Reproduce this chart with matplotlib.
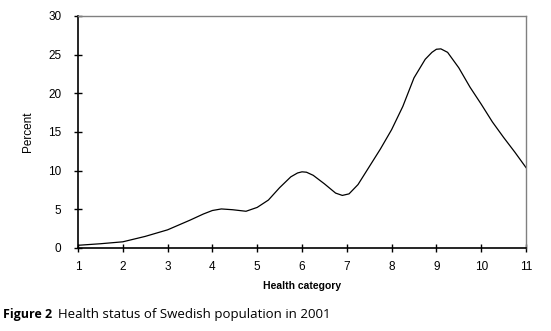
import numpy as np
import matplotlib
matplotlib.use('Agg')
import matplotlib.pyplot as plt

# health category (x) and percent (y)
category = [1, 1.5, 2, 2.5, 3, 3.5, 3.8, 4, 4.2, 4.45, 4.75, 5, 5.25, 5.5,
            5.75, 5.9, 6, 6.1, 6.25, 6.5, 6.75, 6.9, 7.05, 7.25, 7.5, 7.75,
            8, 8.25, 8.5, 8.75, 8.9, 9, 9.1, 9.25, 9.5, 9.75, 10, 10.25,
            10.5, 10.75, 11]
percent = [0.35, 0.55, 0.8, 1.5, 2.35, 3.6, 4.4, 4.85, 5.05, 4.95, 4.75,
           5.25, 6.2, 7.8, 9.2, 9.7, 9.85, 9.8, 9.4, 8.3, 7.1, 6.8, 7.0,
           8.2, 10.5, 12.8, 15.3, 18.3, 22.0, 24.4, 25.3, 25.7, 25.75, 25.3,
           23.3, 20.8, 18.6, 16.3, 14.3, 12.4, 10.4]
xticks = list(range(1, 12))
yticks = [0, 5, 10, 15, 20, 25, 30]

plt.rcParams['font.family'] = ['Liberation Sans', 'DejaVu Sans']

fig = plt.figure(figsize=(5.51, 3.31), dpi=100)
ax = fig.add_axes([78 / 551, 1 - 248 / 331, 448 / 551, 232 / 331])
ax.plot(category, percent, color='black', lw=0.9)
ax.set_xlim(1, 11)
ax.set_ylim(0, 30)
ax.set_xticks(xticks)
ax.set_yticks(yticks)
ax.tick_params(direction='inout', length=6, width=1, labelsize=8.5, color='black')
ax.tick_params(axis='y', pad=9)
ax.tick_params(axis='x', pad=6)
for side in ['left', 'bottom']:
    ax.spines[side].set_color('black')
    ax.spines[side].set_linewidth(1.2)
for side in ['top', 'right']:
    ax.spines[side].set_color('#808080')
    ax.spines[side].set_linewidth(1.0)
ax.set_xlabel('Health category', fontsize=7.5, fontweight='bold', labelpad=6)
ax.set_ylabel('Percent', fontsize=8.5, labelpad=10)

# caption under the chart
fig.text(3 / 551, 1 - 318 / 331, 'Figure 2', fontsize=9, fontweight='bold',
         family='Open Sans', va='baseline')
fig.text(58 / 551, 1 - 318 / 331, 'Health status of Swedish population in 2001',
         fontsize=9.5, family='Open Sans', va='baseline')

fig.savefig('out.png', dpi=100)
